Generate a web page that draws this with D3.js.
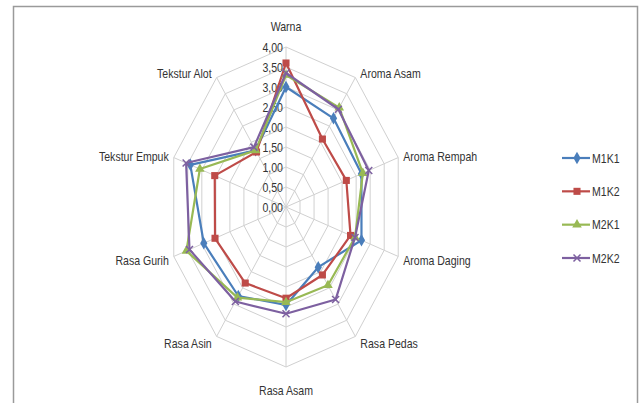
<!DOCTYPE html>
<html><head><meta charset="utf-8">
<script src="https://cdn.jsdelivr.net/npm/d3@7"></script>
<style>
html,body{margin:0;padding:0;background:#fff;}
svg{display:block;}
text{font-family:"Liberation Sans",Arial,sans-serif;fill:#333;}
</style></head>
<body><svg id="c" width="640" height="403"></svg>
<script>
const categories = ["Warna","Aroma Asam","Aroma Rempah","Aroma Daging","Rasa Pedas","Rasa Asam","Rasa Asin","Rasa Gurih","Tekstur Empuk","Tekstur Alot"];
const seriesNames = ["M1K1","M1K2","M2K1","M2K2"];
const m1k1 = [3.00,2.74,2.69,2.69,1.86,2.45,2.75,2.93,3.41,1.75];
const m1k2 = [3.60,2.10,2.15,2.30,2.10,2.28,2.35,2.53,2.54,1.70];
const m2k1 = [3.30,3.07,2.74,2.46,2.42,2.38,2.80,3.55,3.07,1.75];
const m2k2 = [3.35,3.02,2.95,2.46,2.86,2.67,2.92,3.44,3.56,1.85];
const tickValues = [0,0.5,1,1.5,2,2.5,3,3.5,4];
const colors = ["#4A7EBB","#BE4B48","#98B954","#7D60A0"];
const shapes = [d3.symbolDiamond, d3.symbolSquare, d3.symbolTriangle, "x"];

const seriesVals = [m1k1,m1k2,m2k1,m2k2];
const svg = d3.select("#c");
const cx = 286, cy = 207, rx = 118, ry = 160, sx = 0.88;
const rScale = d3.scaleLinear().domain([0,4]).range([0,1]);
const ang = d3.scaleLinear().domain([0,categories.length]).range([0,2*Math.PI]);
function pt(i,v){const a=ang(i),r=rScale(v);return [cx+Math.sin(a)*r*rx, cy-Math.cos(a)*r*ry];}

// chart border
svg.append("path").attr("d","M13.5,403 L13.5,6.5 L637.5,6.5 L637.5,403")
  .attr("fill","none").attr("stroke","#9a9a9a").attr("stroke-width",1.5);

// grid rings
const g = svg.append("g");
tickValues.slice(1).forEach(t=>{
  const pts = categories.map((c,i)=>pt(i,t));
  g.append("path").attr("d", d3.line()(pts)+"Z").attr("fill","none").attr("stroke","#d0d0d0").attr("stroke-width",1);
});
categories.forEach((c,i)=>{
  const p = pt(i,4);
  g.append("line").attr("x1",cx).attr("y1",cy).attr("x2",p[0]).attr("y2",p[1]).attr("stroke","#d0d0d0").attr("stroke-width",1);
});

// tick labels
tickValues.forEach(t=>{
  const p = pt(0,t);
  svg.append("text").attr("transform",`translate(${cx-3},${p[1]+4.5}) scale(${sx},1)`)
    .attr("text-anchor","end").attr("font-size",12).text(d3.format(".2f")(t).replace(".",","));
});

// category labels
categories.forEach((c,i)=>{
  const a = ang(i), p = pt(i,4);
  const s = Math.sin(a), co = Math.cos(a);
  let anchor="middle", x=p[0], y;
  if (Math.abs(s)<0.1){ y = p[1] + (co>0 ? -16 : 28); }
  else { anchor = s>0 ? "start":"end"; x = p[0] + (s>0?5:-5); y = p[1] - co*7 + 6; }
  svg.append("text").attr("transform",`translate(${x},${y}) scale(${sx},1)`)
    .attr("text-anchor",anchor).attr("font-size",12).text(c);
});

function marker(sel, k, x, y){
  if (shapes[k]==="x"){
    const d=3.5;
    sel.append("path").attr("d",`M${x-d},${y-d}L${x+d},${y+d}M${x-d},${y+d}L${x+d},${y-d}`)
      .attr("stroke",colors[k]).attr("stroke-width",1.5).attr("fill","none");
  } else {
    const size = shapes[k]===d3.symbolSquare?50:(shapes[k]===d3.symbolTriangle?40:45);
    sel.append("path").attr("d",d3.symbol().type(shapes[k]).size(size)())
      .attr("transform",`translate(${x},${y})`).attr("fill",colors[k]);
  }
}

// series
seriesVals.forEach((vals,k)=>{
  const pts = vals.map((v,i)=>pt(i,v));
  const sg = svg.append("g");
  sg.append("path").attr("d", d3.line()(pts)+"Z").attr("fill","none")
    .attr("stroke",colors[k]).attr("stroke-width",2.2).attr("stroke-linejoin","round");
  pts.forEach(p=>marker(sg,k,p[0],p[1]));
});

// legend
const legY = d3.scalePoint().domain(seriesNames).range([158,258]);
seriesNames.forEach((n,k)=>{
  const y = legY(n);
  svg.append("line").attr("x1",562).attr("x2",590).attr("y1",y).attr("y2",y)
    .attr("stroke",colors[k]).attr("stroke-width",2.2);
  marker(svg,k,577,y);
  svg.append("text").attr("transform",`translate(592,${y+4.5}) scale(${sx},1)`)
    .attr("font-size",12).text(n);
});
</script></body></html>
